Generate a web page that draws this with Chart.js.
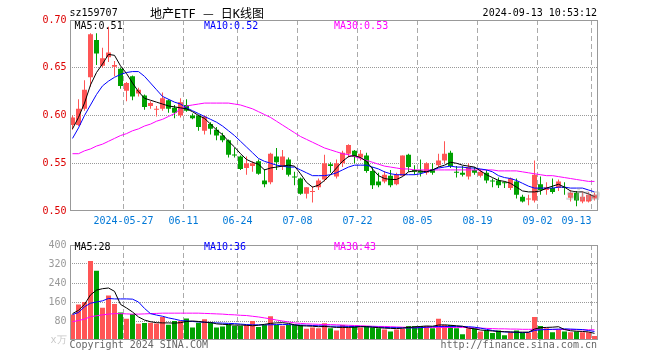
<!DOCTYPE html>
<html><head><meta charset="utf-8">
<script src="https://cdn.jsdelivr.net/npm/chart.js@4.4.1/dist/chart.umd.min.js"></script>
<style>
html,body{margin:0;padding:0;background:#fff;}
#wrap{position:relative;width:660px;height:360px;overflow:hidden;background:#fff;}
canvas{position:absolute;left:0;}
.t{position:absolute;font-family:"DejaVu Sans Mono",monospace;font-size:10px;line-height:12px;white-space:pre;}
</style></head><body>
<div id="wrap">
<canvas id="k" width="660" height="236" style="top:0;width:660px;height:236px"></canvas>
<canvas id="v" width="660" height="124" style="top:236px;width:660px;height:124px"></canvas>
<div class="t" style="left:69.5px;top:7px;color:#000">sz159707</div>
<div class="t" style="left:150px;top:6px;font-size:12px;line-height:14px;font-family:'DejaVu Sans Mono','Noto Sans CJK SC';color:#000">地产ETF <span style="font-family:'Noto Sans CJK SC'">—</span> 日K线图</div>
<div class="t" style="right:63px;top:7px;color:#000">2024-09-13 10:53:12</div>
<div class="t" style="left:74.5px;top:20px;color:#000">MA5:0.51</div>
<div class="t" style="left:204px;top:20px;color:#0000ff">MA10:0.52</div>
<div class="t" style="left:334px;top:20px;color:#ff00ff">MA30:0.53</div>
<div class="t" style="left:74.5px;top:241px;color:#000">MA5:28</div>
<div class="t" style="left:204px;top:241px;color:#0000ff">MA10:36</div>
<div class="t" style="left:334px;top:241px;color:#ff00ff">MA30:43</div>
<div class="t" style="left:69.5px;top:339px;color:#666">Copyright 2024 SINA.COM</div>
<div class="t" style="right:63px;top:339px;color:#666">http://finance.sina.com.cn</div>
<div class="t" style="left:566px;top:186px;font-size:15px;line-height:18px;font-style:italic;font-weight:bold;font-family:'DejaVu Sans';color:rgba(170,170,170,0.45)">sina</div>
</div>
<script>
const dates = ['2024-05-14','2024-05-15','2024-05-16','2024-05-17','2024-05-20','2024-05-21','2024-05-22','2024-05-23','2024-05-24','2024-05-27','2024-05-28','2024-05-29','2024-05-30','2024-05-31',
'2024-06-03','2024-06-04','2024-06-05','2024-06-06','2024-06-07','2024-06-11','2024-06-12','2024-06-13','2024-06-14','2024-06-17','2024-06-18','2024-06-19','2024-06-20','2024-06-21','2024-06-24','2024-06-25','2024-06-26','2024-06-27','2024-06-28',
'2024-07-01','2024-07-02','2024-07-03','2024-07-04','2024-07-05','2024-07-08','2024-07-09','2024-07-10','2024-07-11','2024-07-12','2024-07-15','2024-07-16','2024-07-17','2024-07-18','2024-07-19','2024-07-22','2024-07-23','2024-07-24','2024-07-25','2024-07-26','2024-07-29','2024-07-30','2024-07-31',
'2024-08-01','2024-08-02','2024-08-05','2024-08-06','2024-08-07','2024-08-08','2024-08-09','2024-08-12','2024-08-13','2024-08-14','2024-08-15','2024-08-16','2024-08-19','2024-08-20','2024-08-21','2024-08-22','2024-08-23','2024-08-26','2024-08-27','2024-08-28','2024-08-29','2024-08-30',
'2024-09-02','2024-09-03','2024-09-04','2024-09-05','2024-09-06','2024-09-09','2024-09-10','2024-09-11','2024-09-12','2024-09-13'];

const open  = [0.590,0.590,0.607,0.640,0.679,0.652,0.661,0.651,0.649,0.626,0.641,0.623,0.621,0.610,0.606,0.607,0.616,0.608,0.600,0.611,
0.600,0.600,0.584,0.591,0.585,0.579,0.574,0.559,0.557,0.545,0.547,0.552,0.532,0.530,0.557,0.547,0.554,0.536,0.534,0.518,
0.520,0.525,0.533,0.549,0.536,0.550,0.560,0.563,0.556,0.558,0.542,0.531,0.531,0.537,0.528,0.537,0.559,0.543,0.542,0.540,
0.544,0.548,0.553,0.561,0.541,0.540,0.536,0.543,0.537,0.540,0.532,0.532,0.530,0.524,0.531,0.515,0.512,0.511,0.528,0.522,
0.524,0.524,0.525,0.514,0.519,0.510,0.510,0.513];
const high  = [0.600,0.617,0.637,0.686,0.686,0.671,0.693,0.657,0.650,0.635,0.642,0.629,0.622,0.615,0.610,0.624,0.617,0.611,0.618,0.617,
0.602,0.601,0.600,0.593,0.588,0.582,0.575,0.566,0.558,0.557,0.552,0.554,0.544,0.561,0.566,0.564,0.556,0.541,0.535,0.525,
0.526,0.534,0.559,0.551,0.554,0.563,0.570,0.564,0.564,0.561,0.546,0.540,0.542,0.543,0.540,0.558,0.560,0.548,0.554,0.551,
0.550,0.560,0.573,0.563,0.547,0.547,0.550,0.546,0.544,0.543,0.534,0.535,0.531,0.535,0.534,0.517,0.517,0.553,0.536,0.530,
0.534,0.533,0.530,0.522,0.521,0.521,0.520,0.519];
const low   = [0.585,0.589,0.605,0.630,0.653,0.650,0.656,0.641,0.628,0.615,0.616,0.620,0.606,0.607,0.599,0.605,0.603,0.597,0.598,0.604,
0.596,0.584,0.580,0.580,0.574,0.572,0.556,0.556,0.543,0.538,0.541,0.538,0.525,0.528,0.543,0.543,0.536,0.527,0.517,0.513,
0.509,0.522,0.531,0.540,0.534,0.546,0.556,0.550,0.553,0.540,0.523,0.525,0.529,0.525,0.527,0.536,0.541,0.538,0.536,0.538,
0.538,0.546,0.550,0.545,0.535,0.536,0.533,0.538,0.535,0.529,0.525,0.524,0.524,0.522,0.513,0.509,0.506,0.509,0.517,0.517,
0.518,0.521,0.517,0.510,0.505,0.508,0.509,0.511];
const close = [0.598,0.607,0.627,0.685,0.665,0.660,0.666,0.653,0.631,0.634,0.620,0.627,0.609,0.613,0.607,0.618,0.607,0.603,0.614,0.605,
0.597,0.588,0.599,0.586,0.579,0.574,0.559,0.558,0.544,0.550,0.550,0.539,0.528,0.560,0.551,0.557,0.538,0.535,0.518,0.525,
0.521,0.532,0.550,0.547,0.550,0.561,0.569,0.557,0.560,0.542,0.527,0.527,0.538,0.527,0.538,0.558,0.546,0.541,0.540,0.550,
0.540,0.553,0.560,0.547,0.540,0.538,0.546,0.540,0.541,0.532,0.531,0.527,0.529,0.534,0.517,0.510,0.513,0.538,0.522,0.525,
0.520,0.531,0.524,0.519,0.511,0.515,0.517,0.517];

const ma5  = [0.586,0.598,0.613,0.632,0.645,0.654,0.664,0.663,0.652,0.644,0.634,0.625,0.618,0.616,0.614,0.612,0.610,0.609,0.608,0.607,
0.604,0.600,0.597,0.591,0.585,0.580,0.573,0.567,0.560,0.554,0.551,0.549,0.543,0.545,0.546,0.547,0.548,0.547,0.539,0.530,
0.525,0.527,0.532,0.538,0.545,0.552,0.557,0.558,0.556,0.552,0.544,0.537,0.534,0.533,0.533,0.536,0.541,0.542,0.542,0.541,
0.543,0.546,0.548,0.551,0.550,0.548,0.547,0.546,0.542,0.538,0.535,0.532,0.531,0.529,0.525,0.521,0.520,0.520,0.521,0.524,
0.526,0.528,0.525,0.521,0.520,0.520,0.518,0.515];
const ma10 = [0.576,0.587,0.600,0.611,0.622,0.631,0.636,0.640,0.643,0.645,0.646,0.646,0.641,0.634,0.627,0.620,0.617,0.614,0.612,0.608,
0.605,0.602,0.599,0.596,0.593,0.589,0.584,0.579,0.573,0.567,0.561,0.555,0.552,0.550,0.548,0.547,0.546,0.546,0.543,0.540,
0.537,0.537,0.537,0.538,0.540,0.543,0.546,0.548,0.548,0.548,0.546,0.544,0.541,0.539,0.538,0.538,0.538,0.538,0.539,0.541,
0.543,0.545,0.546,0.547,0.546,0.546,0.545,0.545,0.544,0.543,0.541,0.537,0.535,0.534,0.532,0.529,0.526,0.524,0.524,0.524,
0.524,0.525,0.525,0.524,0.524,0.524,0.522,0.520];
const ma30 = [0.560,0.560,0.563,0.565,0.568,0.570,0.573,0.576,0.579,0.581,0.584,0.586,0.589,0.591,0.594,0.596,0.599,0.602,0.607,0.610,
0.611,0.612,0.613,0.613,0.613,0.613,0.613,0.612,0.611,0.609,0.607,0.604,0.601,0.598,0.594,0.590,0.586,0.582,0.578,0.575,
0.572,0.569,0.566,0.564,0.562,0.560,0.559,0.557,0.555,0.553,0.551,0.549,0.547,0.546,0.545,0.544,0.544,0.543,0.543,0.543,
0.543,0.543,0.543,0.543,0.543,0.543,0.543,0.543,0.543,0.543,0.543,0.542,0.542,0.542,0.542,0.541,0.540,0.539,0.538,0.537,
0.537,0.536,0.535,0.534,0.533,0.532,0.531,0.531];

const volume = [107,149,160,333,292,136,187,152,116,89,109,68,72,73,69,97,64,80,80,91,
53,73,87,73,53,57,65,60,60,63,80,55,63,100,63,60,63,63,63,47,
53,49,71,49,40,63,53,56,53,59,53,49,44,36,44,47,59,59,59,59,
49,89,63,63,49,24,49,49,36,40,29,40,20,33,40,31,31,97,59,49,
33,44,36,33,36,33,33,17];
const vma5  = [111,125,150,190,210,216,219,205,150,135,118,97,84,77,73,72,72,71,73,78,
80,78,75,74,68,66,65,63,63,62,60,62,66,70,72,73,70,64,60,59,
58,56,57,55,53,53,53,54,56,56,54,52,50,49,48,50,53,55,57,59,
58,63,64,62,60,58,50,47,42,40,38,36,35,34,33,33,33,46,52,53,
54,56,44,39,37,36,34,28];
const vma10 = [107,116,140,155,160,165,175,173,173,173,172,160,133,111,105,100,93,88,82,80,
78,76,75,73,72,71,70,69,67,65,64,64,64,64,65,65,65,64,63,62,
61,60,59,58,58,58,57,57,57,56,55,54,53,52,52,51,51,51,52,54,
56,57,57,57,57,57,56,54,50,45,40,36,34,33,32,31,32,40,43,44,
45,46,47,46,45,44,40,36];
const vma30 = [77,82,88,98,102,106,109,111,111,110,109,109,110,111,112,113,113,113,113,113,
113,113,112,111,110,109,107,106,104,103,100,97,93,89,84,80,76,72,70,68,
67,66,65,65,64,63,62,61,60,59,58,57,57,56,55,54,53,53,53,53,
53,53,53,53,53,53,52,51,50,49,48,47,47,46,46,45,45,45,45,45,
44,44,44,44,44,43,43,43];

const tickDates = ['2024-05-27','2024-06-11','2024-06-24','2024-07-08','2024-07-22','2024-08-05','2024-08-19','2024-09-02','2024-09-13'];
const tickTexts = ['2024-05-27','06-11','06-24','07-08','07-22','08-05','08-19','09-02','09-13'];
const priceTicks = [0.50,0.55,0.60,0.65,0.70];
const volTicks = [0,80,160,240,320,400];

const RED = '#ff5555', GREEN = '#00a100';
const up = close.map((c,i)=> c >= open[i]);
const candleColor = up.map(u => u ? RED : GREEN);
const tickIdx = tickDates.map(d => dates.indexOf(d));
const FONT = "'DejaVu Sans Mono', monospace";
Chart.defaults.font.family = FONT;
Chart.defaults.font.size = 10;

const frame = {id:'frame', afterDraw(c){
  const a=c.chartArea, x=c.ctx, l=Math.round(a.left), t=Math.round(a.top), r=Math.round(a.right), b=Math.round(a.bottom);
  x.save(); x.strokeStyle='#999'; x.lineWidth=1;
  x.strokeRect(l+0.5, t+0.5, r-l-1, b-t-1); x.restore();
}};

function xScale(showLabels){
  return {
    offset:true,
    grid:{offset:true, drawTicks:false, lineWidth:1,
      color: ctx => (ctx.tick && tickIdx.includes(ctx.index)) ? '#aaaaaa' : 'rgba(0,0,0,0)'},
    border:{display:false, dash:[5,3]},
    ticks:{display:showLabels, autoSkip:false, maxRotation:0, minRotation:0, padding:4, labelOffset:-3,
      color:'#0078d7', font:{family:FONT,size:10},
      callback:(v,i)=>{ const k=tickIdx.indexOf(i); if(k<0) return ''; return k===tickIdx.length-1 ? tickTexts[k]+'     ' : tickTexts[k]; }},
    afterFit: s => { s.height = showLabels ? 25 : 0; }
  };
}

new Chart(document.getElementById('k'), {
  type:'bar',
  data:{ labels: dates, datasets:[
    {type:'line', data:ma5, borderColor:'#000000', borderWidth:1, pointRadius:0, tension:0, order:0},
    {type:'line', data:ma10, borderColor:'#0000ff', borderWidth:1, pointRadius:0, tension:0, order:0},
    {type:'line', data:ma30, borderColor:'#ff00ff', borderWidth:1, pointRadius:0, tension:0, order:0},
    {type:'bar', data: open.map((o,i)=>[Math.min(o,close[i]), Math.max(o,close[i])]), backgroundColor:candleColor,
      barThickness:5, grouped:false, minBarLength:1, borderWidth:0, inflateAmount:0, order:1},
    {type:'bar', data: low.map((l,i)=>[l, high[i]]), backgroundColor:candleColor,
      barThickness:1, grouped:false, borderWidth:0, inflateAmount:0, order:2}
  ]},
  options:{
    responsive:false, animation:false, devicePixelRatio:1,
    layout:{padding:{top:20, right:62.5, left:0, bottom:0}},
    plugins:{legend:{display:false}, tooltip:{enabled:false}},
    scales:{
      x: xScale(true),
      y:{ min:0.5, max:0.7,
        afterBuildTicks: s => { s.ticks = priceTicks.map(v=>({value:v})); },
        afterFit: s => { s.width = 69.5; },
        grid:{drawTicks:false, color: ctx => (ctx.tick && ctx.tick.value>0.501 && ctx.tick.value<0.699) ? '#999999' : 'rgba(0,0,0,0)'},
        border:{display:false, dash:[1,1]},
        ticks:{padding:3, color:'#dd0000', font:{family:FONT,size:10}, callback:v=>Number(v).toFixed(2)}
      }
    }
  },
  plugins:[frame]
});

new Chart(document.getElementById('v'), {
  type:'bar',
  data:{ labels: dates, datasets:[
    {type:'line', data:vma5, borderColor:'#000000', borderWidth:1, pointRadius:0, tension:0, order:0},
    {type:'line', data:vma10, borderColor:'#0000ff', borderWidth:1, pointRadius:0, tension:0, order:0},
    {type:'line', data:vma30, borderColor:'#ff00ff', borderWidth:1, pointRadius:0, tension:0, order:0},
    {type:'bar', data:volume, backgroundColor:candleColor, barThickness:5, borderWidth:0, inflateAmount:0, order:1}
  ]},
  options:{
    responsive:false, animation:false, devicePixelRatio:1,
    layout:{padding:{top:4, right:62.5, left:0, bottom:20}},
    plugins:{legend:{display:false}, tooltip:{enabled:false}},
    scales:{
      x: xScale(false),
      y:{ min:0, max:400,
        afterBuildTicks: s => { s.ticks = volTicks.map(v=>({value:v})); },
        afterFit: s => { s.width = 69.5; },
        grid:{drawTicks:false, color: ctx => (ctx.tick && ctx.tick.value>0 && ctx.tick.value<400) ? '#999999' : 'rgba(0,0,0,0)'},
        border:{display:false, dash:[1,1]},
        ticks:{padding:3, font:{family:FONT,size:10},
          color: ctx => (ctx.tick && ctx.tick.value===0) ? '#c8c8c8' : '#999999',
          callback:v=> v===0 ? 'x万' : String(v)}
      }
    }
  },
  plugins:[frame]
});
</script>
</body></html>
